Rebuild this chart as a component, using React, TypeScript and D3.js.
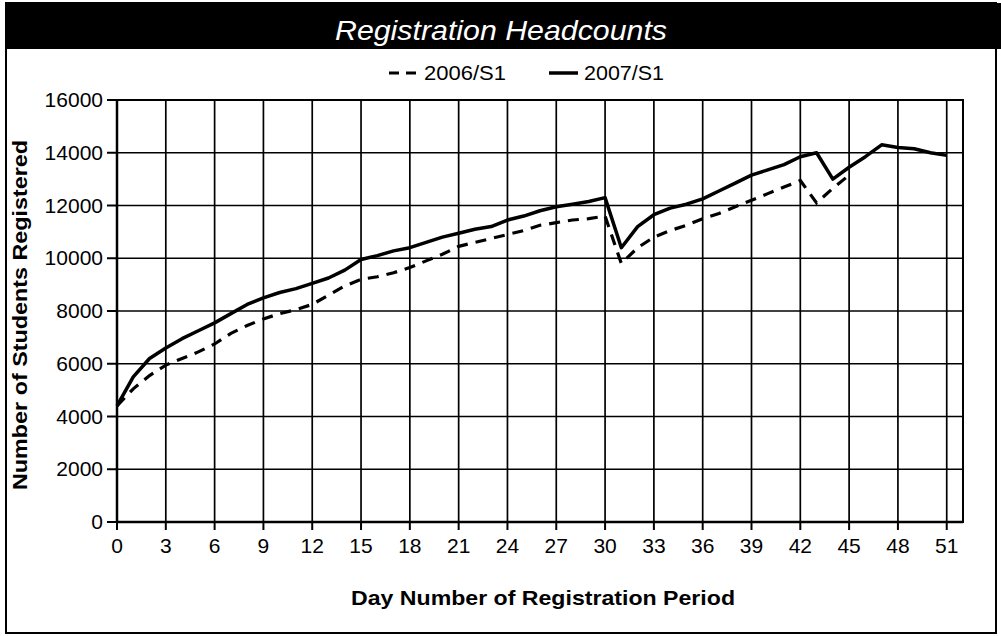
import React from "react";
import * as d3 from "d3";

const days2007 = [0,1,2,3,4,5,6,7,8,9,10,11,12,13,14,15,16,17,18,19,20,21,22,23,24,25,26,27,28,29,30,31,32,33,34,35,36,37,38,39,40,41,42,43,44,45,46,47,48,49,50,51];
const values2007 = [4400,5500,6200,6600,6950,7250,7550,7900,8250,8500,8700,8850,9050,9250,9550,9950,10100,10280,10400,10600,10800,10950,11100,11200,11450,11600,11800,11950,12050,12150,12300,10400,11200,11650,11900,12050,12250,12550,12850,13150,13350,13550,13850,14000,13000,13450,13850,14300,14200,14150,14000,13900];

const days2006 = [0,1,2,3,4,5,6,7,8,9,10,11,12,13,14,15,16,17,18,19,20,21,22,23,24,25,26,27,28,29,30,31,32,33,34,35,36,37,38,39,40,41,42,43,44,45];
const values2006 = [4400,5050,5550,5950,6200,6450,6750,7150,7450,7700,7900,8050,8250,8600,8950,9200,9300,9450,9650,9900,10150,10450,10600,10750,10900,11050,11250,11350,11450,11500,11600,9800,10400,10800,11050,11250,11500,11700,11950,12200,12450,12700,12950,12100,12650,13150];

const xTicks = [0,3,6,9,12,15,18,21,24,27,30,33,36,39,42,45,48,51];
const yTicks = [0,2000,4000,6000,8000,10000,12000,14000,16000];
const seriesNames = ["2006/S1", "2007/S1"];

const W = 1001, H = 636;
const plot = { left: 117, right: 963, top: 100, bottom: 522 };
const FONT = "'Liberation Sans', Arial, sans-serif";

export default function App() {
  const x = d3.scaleLinear().domain([0, 52]).range([plot.left, plot.right]);
  const y = d3.scaleLinear().domain([0, 16000]).range([plot.bottom, plot.top]);
  const line = d3.line<[number, number]>().x(d => x(d[0])).y(d => y(d[1]));
  const p2006 = line(days2006.map((d, i) => [d, values2006[i]] as [number, number])) || "";
  const p2007 = line(days2007.map((d, i) => [d, values2007[i]] as [number, number])) || "";

  return (
    <svg width={W} height={H} style={{ position: "absolute", left: 0, top: 0, background: "#fff" }}>
      <rect x={0} y={0} width={W} height={H} fill="#fff" />
      {/* frame */}
      <rect x={6} y={3} width={990} height={630} fill="none" stroke="#000" strokeWidth={2} />
      {/* title bar */}
      <rect x={6} y={3} width={995} height={46} fill="#000" />
      <text x={501} y={40} textAnchor="middle" fill="#fff" fontFamily={FONT} fontStyle="italic" fontSize={28} textLength={332} lengthAdjust="spacingAndGlyphs">Registration Headcounts</text>

      {/* legend */}
      <g fontFamily={FONT} fontSize={21} fill="#000">
        <line x1={389} x2={416} y1={73} y2={73} stroke="#000" strokeWidth={3} strokeDasharray="10,7" />
        <text x={424} y={80} textLength={82} lengthAdjust="spacingAndGlyphs">{seriesNames[0]}</text>
        <line x1={549} x2={578} y1={73} y2={73} stroke="#000" strokeWidth={3.5} />
        <text x={584} y={80} textLength={80} lengthAdjust="spacingAndGlyphs">{seriesNames[1]}</text>
      </g>

      {/* grid */}
      <g stroke="#000" strokeWidth={1.7}>
        {yTicks.map(t => (
          <line key={"gy" + t} x1={plot.left} x2={plot.right} y1={y(t)} y2={y(t)} />
        ))}
        {xTicks.map(t => (
          <line key={"gx" + t} x1={x(t)} x2={x(t)} y1={plot.top} y2={plot.bottom} />
        ))}
      </g>
      {/* border */}
      <rect x={plot.left} y={plot.top} width={plot.right - plot.left} height={plot.bottom - plot.top} fill="none" stroke="#000" strokeWidth={2} />
      <line x1={plot.left} x2={plot.left} y1={plot.top} y2={plot.bottom} stroke="#000" strokeWidth={2.5} />
      <line x1={plot.left} x2={plot.right} y1={plot.bottom} y2={plot.bottom} stroke="#000" strokeWidth={2.5} />

      {/* ticks + labels */}
      <g fontFamily={FONT} fontSize={21} fill="#000">
        {yTicks.map(t => (
          <g key={"ty" + t}>
            <line x1={plot.left - 10} x2={plot.left} y1={y(t)} y2={y(t)} stroke="#000" strokeWidth={2} />
            <text x={plot.left - 14} y={y(t) + 7} textAnchor="end">{t}</text>
          </g>
        ))}
        {xTicks.map(t => (
          <g key={"tx" + t}>
            <line x1={x(t)} x2={x(t)} y1={plot.bottom} y2={plot.bottom + 8} stroke="#000" strokeWidth={2} />
            <text x={x(t)} y={plot.bottom + 31} textAnchor="middle">{t}</text>
          </g>
        ))}
      </g>

      {/* series */}
      <path d={p2006} fill="none" stroke="#000" strokeWidth={3.2} strokeDasharray="11,8" />
      <path d={p2007} fill="none" stroke="#000" strokeWidth={3.5} strokeLinejoin="round" />

      {/* axis titles */}
      <text x={543} y={605} textAnchor="middle" fontFamily={FONT} fontWeight="bold" fontSize={21} textLength={384} lengthAdjust="spacingAndGlyphs">Day Number of Registration Period</text>
      <text transform="translate(27,315) rotate(-90)" textAnchor="middle" fontFamily={FONT} fontWeight="bold" fontSize={20} textLength={350} lengthAdjust="spacingAndGlyphs">Number of Students Registered</text>
    </svg>
  );
}
